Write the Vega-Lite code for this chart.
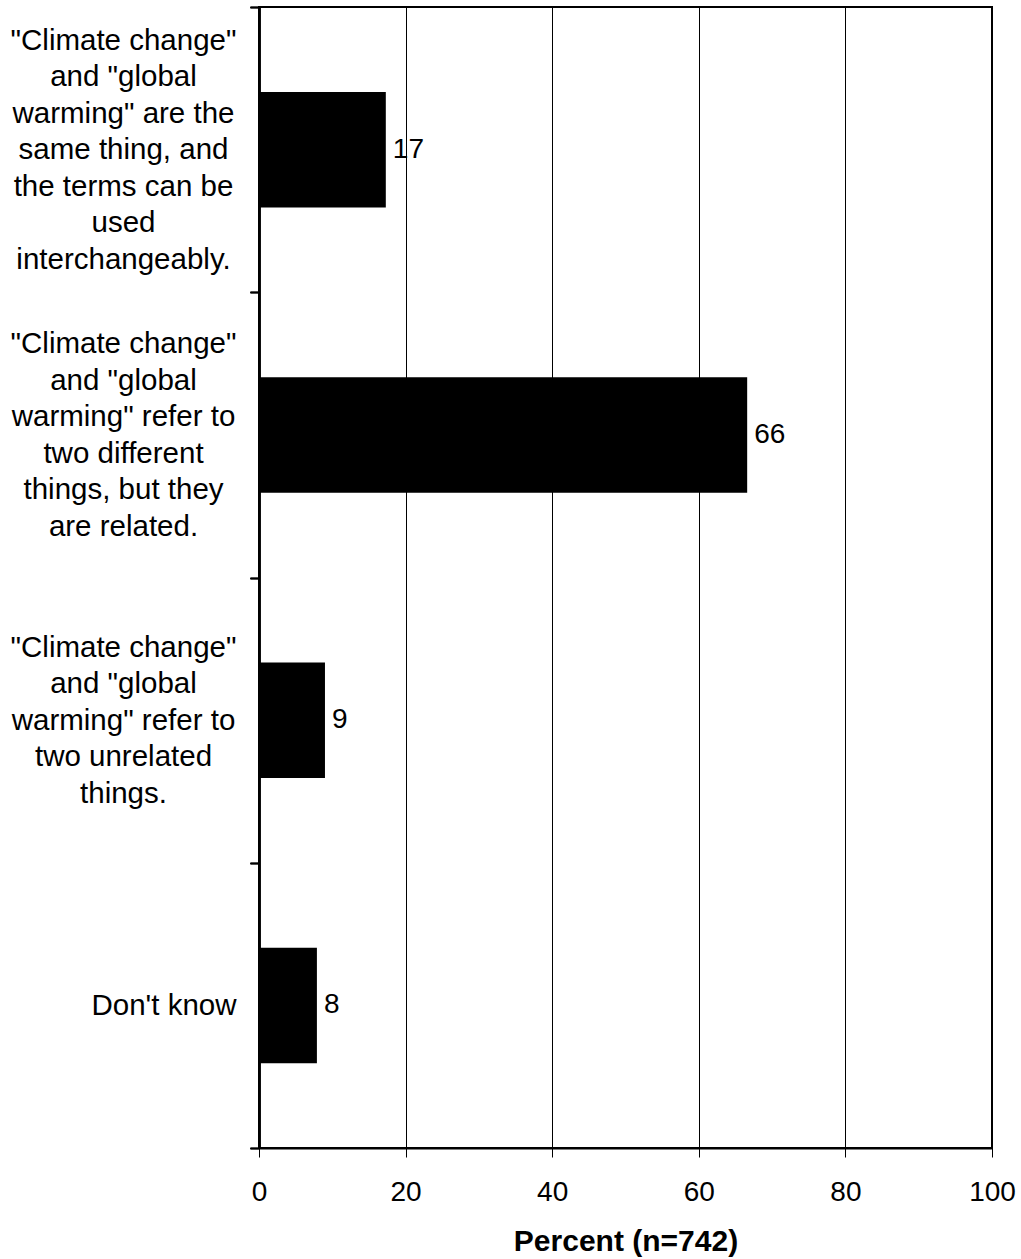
{
  "$schema": "https://vega.github.io/schema/vega-lite/v6.json",
  "width": 733,
  "height": 1141,
  "autosize": {"type": "none"},
  "padding": {"left": 259, "top": 7, "right": 29, "bottom": 111},
  "background": "white",
  "config": {
    "font": "Liberation Sans",
    "view": {"stroke": "black", "strokeWidth": 2},
    "axis": {"labelFont": "Liberation Sans", "titleFont": "Liberation Sans", "labelColor": "black", "titleColor": "black"},
    "axisY": {
      "orient": "left",
      "title": null,
      "labelAlign": "center",
      "labelBaseline": "middle",
      "labelFontSize": 29.5,
      "labelLineHeight": 36.5,
      "labelLimit": 400,
      "labelPadding": 127,
      "labelOverlap": false,
      "tickBand": "extent",
      "tickSize": 9,
      "tickColor": "black",
      "tickWidth": 1.5,
      "domainColor": "black",
      "domainWidth": 2,
      "grid": false
    }
  },
  "data": {
    "values": [
      {"answer": "\"Climate change\"|and \"global|warming\" are the|same thing, and|the terms can be|used|interchangeably.", "percent": 17.3, "label": "17"},
      {"answer": "\"Climate change\"|and \"global|warming\" refer to|two different|things, but they|are related.", "percent": 66.6, "label": "66"},
      {"answer": "\"Climate change\"|and \"global|warming\" refer to|two unrelated|things.", "percent": 9.0, "label": "9"},
      {"answer": "Don't know", "percent": 7.9, "label": "8"}
    ]
  },
  "resolve": {"scale": {"y": "shared"}, "axis": {"y": "independent"}},
  "layer": [
    {
      "mark": {"type": "bar", "color": "black", "size": 115.5},
      "encoding": {
        "y": {
          "field": "answer", "type": "nominal", "sort": null,
          "scale": {"paddingInner": 0, "paddingOuter": 0},
          "axis": {
            "orient": "left",
            "title": null,
            "labelExpr": "indexof(datum.label, 'interchangeably') >= 0 ? split(datum.label, '|') : ''",
            "labelOffset": -109.5
          }
        },
        "x": {
          "field": "percent",
          "type": "quantitative",
          "scale": {"domain": [0, 100], "nice": false},
          "axis": {
            "title": "Percent (n=742)",
            "titleFontSize": 30,
            "titleFontWeight": "bold",
            "titlePadding": 20,
            "values": [0, 20, 40, 60, 80, 100],
            "labelFontSize": 28,
            "labelPadding": 21,
            "labelFlush": false,
            "tickSize": 9,
            "tickColor": "black",
            "tickWidth": 1,
            "domainColor": "black",
            "domainWidth": 2,
            "grid": true,
            "gridColor": "black",
            "gridWidth": 1,
            "gridOpacity": 1
          }
        }
      }
    },
    {
      "transform": [{"filter": "datum.label == '17' || datum.label == '66'"}],
      "mark": {"type": "text", "align": "left", "baseline": "middle", "dx": 7, "fontSize": 28, "color": "black"},
      "encoding": {
        "y": {
          "field": "answer", "type": "nominal", "sort": null,
          "scale": {"paddingInner": 0, "paddingOuter": 0},
          "axis": {
            "orient": "left",
            "title": null,
            "labelExpr": "indexof(datum.label, 'are related') >= 0 ? split(datum.label, '|') : ''",
            "labelOffset": -91.25
          }
        },
        "x": {"field": "percent", "type": "quantitative"},
        "text": {"field": "label"}
      }
    },
    {
      "transform": [{"filter": "datum.label == '9'"}],
      "mark": {"type": "text", "align": "left", "baseline": "middle", "dx": 7, "fontSize": 28, "color": "black"},
      "encoding": {
        "y": {
          "field": "answer", "type": "nominal", "sort": null,
          "scale": {"paddingInner": 0, "paddingOuter": 0},
          "axis": {
            "orient": "left",
            "title": null,
            "labelExpr": "indexof(datum.label, 'unrelated') >= 0 ? split(datum.label, '|') : ''",
            "labelOffset": -73
          }
        },
        "x": {"field": "percent", "type": "quantitative"},
        "text": {"field": "label"}
      }
    },
    {
      "transform": [{"filter": "datum.label == '8'"}],
      "mark": {"type": "text", "align": "left", "baseline": "middle", "dx": 7, "fontSize": 28, "color": "black"},
      "encoding": {
        "y": {
          "field": "answer", "type": "nominal", "sort": null,
          "scale": {"paddingInner": 0, "paddingOuter": 0},
          "axis": {
            "orient": "left",
            "title": null,
            "labelExpr": "indexof(datum.label, 'know') >= 0 ? datum.label : ''",
            "labelAlign": "right",
            "labelPadding": 14,
            "labelOffset": 0
          }
        },
        "x": {"field": "percent", "type": "quantitative"},
        "text": {"field": "label"}
      }
    }
  ]
}
